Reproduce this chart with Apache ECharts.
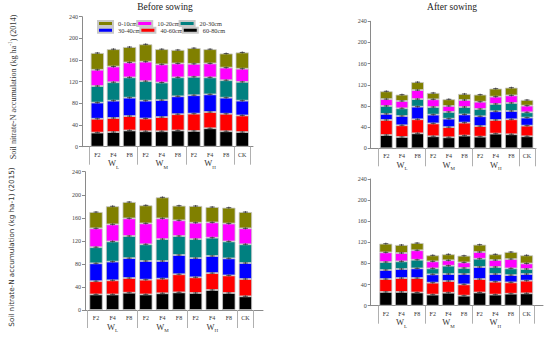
<!DOCTYPE html>
<html><head><meta charset="utf-8">
<script src="https://cdn.jsdelivr.net/npm/echarts@6/dist/echarts.min.js"></script>
<style>html,body{margin:0;padding:0;background:#fff}#c{width:550px;height:338px}</style>
</head><body><div id="c"></div>
<script>
// ---- data ----
const categories = ['F2','F4','F8','F2','F4','F8','F2','F4','F8','CK'];
const groupSubs = ['L','M','H'];
const groupLabelIndex = [1, 4, 7];
const groupBoundaryIndex = [0, 3, 6, 9, 10];
const layers = ['60-80cm','40-60cm','30-40cm','20-30cm','10-20cm','0-10cm']; // bottom -> top
const legendRow1 = ['0-10cm','10-20cm','20-30cm'];
const legendRow2 = ['30-40cm','40-60cm','60-80cm'];
const yTicks = [0, 40, 80, 120, 160, 200, 240];

// Before sowing 2014 (segment values, kg ha-1)
const before2014_60_80 = [26, 27, 30, 28.5, 28.5, 30, 29, 34, 28.5, 27];
const before2014_40_60 = [25.6, 26, 26.5, 23.5, 26.2, 30, 32, 30, 32.3, 30.7];
const before2014_30_40 = [29.8, 32, 34, 33, 31.3, 33, 34, 32.6, 29.7, 27.3];
const before2014_20_30 = [30.6, 34, 37.5, 36, 32.5, 35, 34, 31.4, 32.2, 34.7];
const before2014_10_20 = [30, 29, 27.5, 36, 33.5, 25.7, 24, 25.7, 23.3, 24.3];
const before2014_0_10  = [31, 32, 28.5, 32, 28, 24.9, 29, 26.3, 26, 30];

// After sowing 2014
const after2014_60_80 = [25, 21.4, 28.3, 22.7, 20.8, 24, 22, 27.7, 26.5, 22.7];
const after2014_40_60 = [28.5, 22.1, 26.5, 24.3, 19.2, 24.5, 20, 25.8, 28.3, 20.1];
const after2014_30_40 = [11.5, 17.5, 23.9, 16.6, 16, 15.5, 18.5, 16.5, 15.7, 15.2];
const after2014_20_30 = [15, 14.6, 14.3, 14.4, 12.7, 14, 13.8, 13.8, 15.2, 10];
const after2014_10_20 = [13, 13.8, 17, 14.6, 11.3, 13.3, 13.7, 13.8, 14.3, 12.6];
const after2014_0_10  = [14.7, 12, 15, 12, 12.6, 11.4, 13.4, 15.2, 14.6, 10.7];

// Before sowing 2015
const before2015_60_80 = [27, 27, 30, 27, 29, 30.6, 29.5, 34.7, 29.5, 23.7];
const before2015_40_60 = [23, 24.5, 25.5, 25.6, 25.4, 31.4, 27.2, 29.3, 30.5, 30.1];
const before2015_30_40 = [31, 32.5, 34.5, 32.4, 30.6, 33.4, 33.3, 29.7, 29.6, 27.7];
const before2015_20_30 = [28, 35, 38.4, 29, 38, 33, 33, 31.8, 29.4, 32.5];
const before2015_10_20 = [32.7, 29.6, 30.6, 36.3, 36, 27.2, 28.5, 26.5, 31, 27.7];
const before2015_0_10  = [28.3, 31.4, 28.4, 31.3, 36.5, 25.4, 29, 26.7, 27.6, 28.3];

// After sowing 2015
const after2015_60_80 = [26, 26, 25, 21, 24.6, 19, 25, 21, 22.7, 23.4];
const after2015_40_60 = [24.5, 26.4, 27.4, 22.6, 22.1, 21.4, 25.5, 24.5, 21.5, 24];
const after2015_30_40 = [17.1, 17.1, 18.3, 15.8, 13.3, 19.6, 22.8, 14.5, 13.8, 12.6];
const after2015_20_30 = [15.1, 14.5, 16.3, 11.3, 15.8, 11.4, 15.7, 13.3, 12.7, 9.5];
const after2015_10_20 = [18.3, 15.8, 18, 13.3, 10.2, 10.6, 12.7, 13.2, 17.7, 10.5];
const after2015_0_10  = [16.5, 15.2, 13.7, 11.4, 11.3, 12.7, 13.9, 10.8, 13.3, 15.4];

// ---- styling / layout ----
const layerColors = {'60-80cm':'#000000','40-60cm':'#ff0000','30-40cm':'#0000ff','20-30cm':'#008080','10-20cm':'#ff00ff','0-10cm':'#808000'};
const SERIF = 'Liberation Serif';
const AX = '#8a8a8a';

const panels = [
  {yAxisX:82, bandL:89.3, bandR:250.3, lineEnd:253, top:16.7, bottom:146.7, barW:13.3,
   layers:[before2014_60_80,before2014_40_60,before2014_30_40,before2014_20_30,before2014_10_20,before2014_0_10]},
  {yAxisX:370.7, bandL:378.5, bandR:534.8, lineEnd:536, top:21.3, bottom:148.3, barW:12.7,
   layers:[after2014_60_80,after2014_40_60,after2014_30_40,after2014_20_30,after2014_10_20,after2014_0_10]},
  {yAxisX:85, bandL:87.7, bandR:253.7, lineEnd:263, top:171.7, bottom:310, barW:13.3,
   layers:[before2015_60_80,before2015_40_60,before2015_30_40,before2015_20_30,before2015_10_20,before2015_0_10]},
  {yAxisX:370.7, bandL:378, bandR:534.4, lineEnd:543, top:179, bottom:305.7, barW:13,
   layers:[after2015_60_80,after2015_40_60,after2015_30_40,after2015_20_30,after2015_10_20,after2015_0_10]}
];

const grid = [], xAxis = [], yAxis = [], series = [];
panels.forEach((p, k) => {
  const h = p.bottom - p.top;
  grid.push({left: p.yAxisX, top: p.top, width: p.lineEnd - p.yAxisX, height: h});
  grid.push({left: p.bandL, top: p.top, width: p.bandR - p.bandL, height: h});
  xAxis.push({type:'value', gridIndex:2*k, min:0, max:1, axisLine:{show:true, lineStyle:{color:AX, width:1}},
              axisTick:{show:false}, axisLabel:{show:false}, splitLine:{show:false}});
  xAxis.push({type:'category', gridIndex:2*k+1, data:categories, axisLine:{show:false}, axisTick:{show:false},
              axisLabel:{fontFamily:SERIF, fontSize:6, color:'#333', margin:5, interval:0}, splitLine:{show:false}});
  xAxis.push({type:'category', gridIndex:2*k+1, data:categories, position:'bottom', axisLine:{show:false},
              axisTick:{show:true, length:18, lineStyle:{color:'#b0b0b0', width:1},
                        interval:(i)=>groupBoundaryIndex.includes(i)},
              axisLabel:{margin:11, interval:(i)=>groupLabelIndex.includes(i),
                         formatter:(v,i)=>'{w|W}{s|'+groupSubs[groupLabelIndex.indexOf(i)]+'}',
                         rich:{w:{fontFamily:SERIF, fontSize:8.5, color:'#333', lineHeight:10, verticalAlign:'bottom'},
                               s:{fontFamily:SERIF, fontSize:5, color:'#333', lineHeight:6, verticalAlign:'bottom', padding:[0,0,-2,0]}}},
              splitLine:{show:false}});
  yAxis.push({type:'value', gridIndex:2*k, min:0, max:240, show:false});
  yAxis.push({type:'value', gridIndex:2*k+1, min:0, max:240, interval:40, offset:p.bandL - p.yAxisX,
              axisLine:{show:true, lineStyle:{color:AX, width:1}},
              axisTick:{show:true, length:3, lineStyle:{color:AX}},
              axisLabel:{fontFamily:SERIF, fontSize:6, color:'#444', margin:4}, splitLine:{show:false}});
  const cum = categories.map(()=>0);
  const caps = [];
  layers.forEach((name, li) => {
    const vals = p.layers[li];
    series.push({type:'bar', name:name, xAxisIndex:3*k+1, yAxisIndex:2*k+1, stack:'s'+k, data:vals,
                 barWidth:p.barW, itemStyle:{color:layerColors[name], borderColor:'#c8c8c8', borderWidth:0.8},
                 emphasis:{disabled:true}, silent:true, animation:false});
    vals.forEach((v, i) => { cum[i] += v; caps.push([i, cum[i]]); });
  });
  series.push({type:'custom', xAxisIndex:3*k+1, yAxisIndex:2*k+1, data:caps, z:5, silent:true, animation:false,
    renderItem:(params, api) => {
      const c = api.coord([api.value(0), api.value(1)]);
      return {type:'group', children:[
        {type:'line', shape:{x1:c[0]-2.5, y1:c[1], x2:c[0]+2.5, y2:c[1]}, style:{stroke:'#333', lineWidth:0.8}},
        {type:'line', shape:{x1:c[0], y1:c[1]-1, x2:c[0], y2:c[1]+1}, style:{stroke:'#333', lineWidth:0.8}}
      ]};
    }});
});

const legendCommon = {itemWidth:15, itemHeight:5, itemGap:-1, selectedMode:false, orient:'horizontal',
  textStyle:{fontFamily:SERIF, fontSize:6.3, color:'#333'}, padding:0};

const option = {
  backgroundColor:'#fff', animation:false,
  grid, xAxis, yAxis, series,
  legend:[
    Object.assign({left:97, top:20, data:legendRow1.map(n=>({name:n, icon:'rect'}))}, legendCommon),
    Object.assign({left:97, top:26.8, data:legendRow2.map(n=>({name:n, icon:'rect'}))}, legendCommon)
  ],
  graphic:[
    {type:'text', x:165, y:7, style:{text:'Before sowing', fontFamily:SERIF, fontSize:9.5, fill:'#222', textAlign:'center', textVerticalAlign:'middle'}},
    {type:'text', x:452, y:7, style:{text:'After sowing', fontFamily:SERIF, fontSize:9.5, fill:'#222', textAlign:'center', textVerticalAlign:'middle'}},
    {type:'text', x:12, y:87, rotation:Math.PI/2, style:{
      text:'{a|Soil nitrate-N accumulation (kg ha}{b|-1}{a|) (2014)}', textAlign:'center', textVerticalAlign:'middle',
      rich:{a:{fontFamily:SERIF, fontSize:8.2, fill:'#333', color:'#333', lineHeight:10, verticalAlign:'bottom'},
            b:{fontFamily:SERIF, fontSize:5.3, fill:'#333', color:'#333', lineHeight:10, verticalAlign:'top'}}}},
    {type:'text', x:11, y:247, rotation:Math.PI/2, style:{
      text:'Soil nitrate-N accumulation (kg ha-1) (2015)', fontFamily:'DejaVu Sans', fontSize:7.2, fill:'#333', textAlign:'center', textVerticalAlign:'middle'}}
  ]
};
const chart = echarts.init(document.getElementById('c'), null, {renderer:'svg', width:550, height:338});
chart.setOption(option);
</script></body></html>
